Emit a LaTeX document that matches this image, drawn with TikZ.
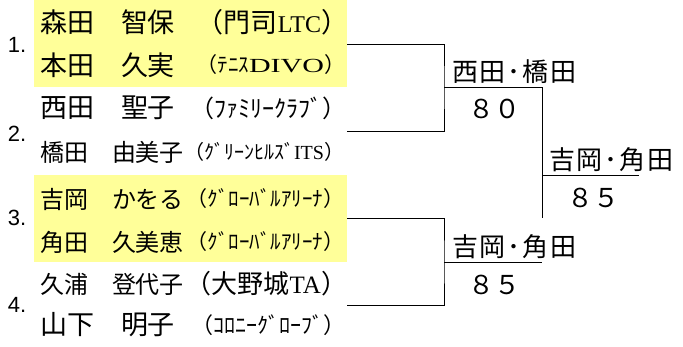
\documentclass[tikz,border=0pt]{standalone}
\usepackage{fontspec}
\setmainfont{Liberation Serif}
\newfontfamily\cjk{Noto Sans CJK JP}
\newfontfamily\serifwide[FakeStretch=1.5]{Liberation Serif}
\newfontfamily\seedfont{Liberation Sans}
\newcommand{\fsz}[1]{\fontsize{#1pt}{#1pt}\selectfont}
\newcommand{\gap}{\kern2pt}
\definecolor{seedfill}{RGB}{255,255,153}

\begin{document}
\begin{tikzpicture}[x=1pt,y=-1pt,line width=0.9pt]
  \tikzstyle{every node}=[inner sep=0pt,outer sep=0pt]
  \tikzstyle{seednum}=[anchor=west,font=\seedfont\fsz{22}]
  \tikzstyle{player}=[anchor=west,font=\cjk]
  \tikzstyle{club}=[anchor=east,font=\cjk]
  \tikzstyle{pair}=[anchor=west,font=\cjk\fsz{26}]
  \tikzstyle{score}=[font=\cjk\fsz{26}]
  \useasboundingbox (0,0) rectangle (683,347);
  % seeded pairs
  \fill[seedfill] (34,0) rectangle (347,87);
  \fill[seedfill] (34,175) rectangle (347,262);
  % draw numbers
  \node[seednum] (n1) at (8,45) {1.};
  \node[seednum] (n2) at (8,134) {2.};
  \node[seednum] (n3) at (8,218) {3.};
  \node[seednum] (n4) at (8,305) {4.};
  % players
  \node[player] (p1) at (40,22) {\fsz{27}森田　智保};
  \node[player] (p2) at (40,65) {\fsz{27}本田　久実};
  \node[player] (p3) at (40,108) {\fsz{27}西田　聖子};
  \node[player] (p4) at (40,152) {\fsz{24}橋田　由美子};
  \node[player] (p5) at (40,199) {\fsz{24}吉岡　かをる};
  \node[player] (p6) at (40,242) {\fsz{24}角田　久美恵};
  \node[player] (p7) at (40,284) {\fsz{24}久浦　登代子};
  \node[player] (p8) at (40,325) {\fsz{27}山下　明子};
  % clubs
  \node[club] (c1) at (348,22) {\fsz{27}（門司{\rmfamily\fsz{24}LTC}）};
  \node[club] (c2) at (345,65) {\fsz{21}（ﾃﾆｽ{\serifwide\fsz{20}DIVO}）};
  \node[club] (c3) at (346,108) {\fsz{24}（ﾌｧﾐﾘｰｸﾗﾌﾞ）};
  \node[club] (c4) at (344,152) {\fsz{20}（ｸﾞﾘｰﾝﾋﾙｽﾞ{\rmfamily ITS}）};
  \node[club] (c5) at (344,199) {\fsz{21}（ｸﾞﾛｰﾊﾞﾙｱﾘｰﾅ）};
  \node[club] (c6) at (344,242) {\fsz{21}（ｸﾞﾛｰﾊﾞﾙｱﾘｰﾅ）};
  \node[club] (c7) at (347,284) {\fsz{26}（大野城{\rmfamily\fsz{25}TA}）};
  \node[club] (c8) at (345,325) {\fsz{22}（ｺﾛﾆｰｸﾞﾛｰﾌﾞ）};
  % bracket
  \coordinate (q1t) at (347,44);
  \coordinate (q1b) at (347,131);
  \coordinate (q1) at (444,87);
  \coordinate (q2t) at (347,218);
  \coordinate (q2b) at (347,305);
  \coordinate (q2) at (444,262);
  \coordinate (s1) at (542,87);
  \coordinate (s2) at (542,262);
  \coordinate (fend) at (542,218);
  \coordinate (fmid) at (542,175);
  \coordinate (champ) at (639,175);
  \draw (q1t) -| (q1) |- (q1b);
  \draw (q1) -- (s1) -- (fend);
  \draw (q2t) -| (q2) |- (q2b);
  \draw (q2) -- (s2);
  \draw (fmid) -- (champ);
  % results
  \node[pair] (w1) at (452,72) {西\gap 田\gap ･\gap 橋\gap 田};
  \node[score] (r1) at (494,109) {８０};
  \node[pair] (w2) at (452,247) {吉\gap 岡\gap ･\gap 角\gap 田};
  \node[score] (r2) at (494,285) {８５};
  \node[pair] (w3) at (549,160) {吉\gap 岡\gap ･\gap 角\gap 田};
  \node[score] (r3) at (593,198) {８５};
\end{tikzpicture}
\end{document}
